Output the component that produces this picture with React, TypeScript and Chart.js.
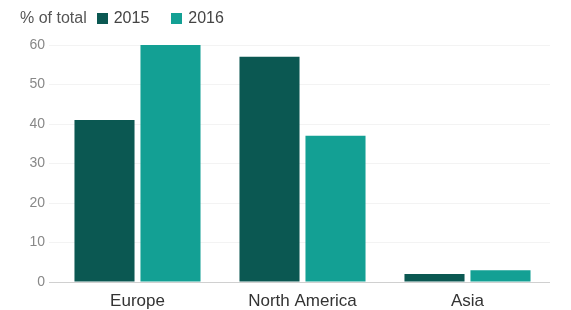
import React, { useEffect, useRef } from "react";
import { Chart, registerables } from "chart.js";

Chart.register(...registerables);

const categories = ["Europe", "North America", "Asia"];
const values2015 = [41, 57, 2];
const values2016 = [60, 37, 3];
const yTicks = [0, 10, 20, 30, 40, 50, 60];
const seriesNames = ["2015", "2016"];
const legendTitle = "% of total";

const COLOR_2015 = "#0b5852";
const COLOR_2016 = "#13a094";
const FONT = "'Liberation Sans', Arial, Helvetica, sans-serif";

export default function App() {
  const ref = useRef<HTMLCanvasElement | null>(null);

  useEffect(() => {
    if (!ref.current) return;
    const chart = new Chart(ref.current, {
      type: "bar",
      data: {
        labels: categories,
        datasets: [
          {
            label: seriesNames[0],
            data: values2015,
            backgroundColor: COLOR_2015,
            categoryPercentage: 0.8,
            barPercentage: 0.91,
          },
          {
            label: seriesNames[1],
            data: values2016,
            backgroundColor: COLOR_2016,
            categoryPercentage: 0.8,
            barPercentage: 0.91,
          },
        ],
      },
      options: {
        animation: false,
        responsive: false,
        maintainAspectRatio: false,
        layout: { padding: { top: 45, right: 21, bottom: 1, left: 0 } },
        plugins: { legend: { display: false }, tooltip: { enabled: false } },
        scales: {
          x: {
            grid: { display: false, drawTicks: false },
            border: { display: false },
            afterFit: (axis: any) => {
              axis.height = 27;
            },
            ticks: {
              color: "#333",
              font: { family: FONT, size: 17 },
              padding: 9,
            },
          },
          y: {
            min: 0,
            max: 60,
            afterBuildTicks: (axis: any) => {
              axis.ticks = yTicks.map((v) => ({ value: v }));
            },
            afterFit: (axis: any) => {
              axis.width = 55;
            },
            border: { display: false },
            grid: {
              color: (ctx: any) => (ctx.tick && ctx.tick.value === 0 ? "#d0d0d0" : "#f3f3f3"),
              tickLength: 6,
              lineWidth: 1,
            },
            ticks: {
              color: "#888",
              font: { family: FONT, size: 14 },
              padding: 4,
            },
          },
        },
      },
    });
    return () => chart.destroy();
  }, []);

  const colors = [COLOR_2015, COLOR_2016];

  return (
    <div style={{ position: "fixed", left: 0, top: 0, width: 571, height: 310, background: "#fff" }}>
      <canvas ref={ref} width={571} height={310} style={{ position: "absolute", left: 0, top: 0 }} />
      <div
        style={{
          position: "absolute",
          left: 20,
          top: 9,
          display: "flex",
          alignItems: "center",
          fontFamily: FONT,
          fontSize: 16,
          color: "#555",
          whiteSpace: "nowrap",
        }}
      >
        <span style={{ marginRight: 10 }}>{legendTitle}</span>
        {seriesNames.map((name, i) => (
          <span key={name} style={{ display: "flex", alignItems: "center", marginRight: 22, color: "#444" }}>
            <span style={{ width: 11, height: 11, background: colors[i], display: "inline-block", marginRight: 6 }} />
            {name}
          </span>
        ))}
      </div>
    </div>
  );
}
